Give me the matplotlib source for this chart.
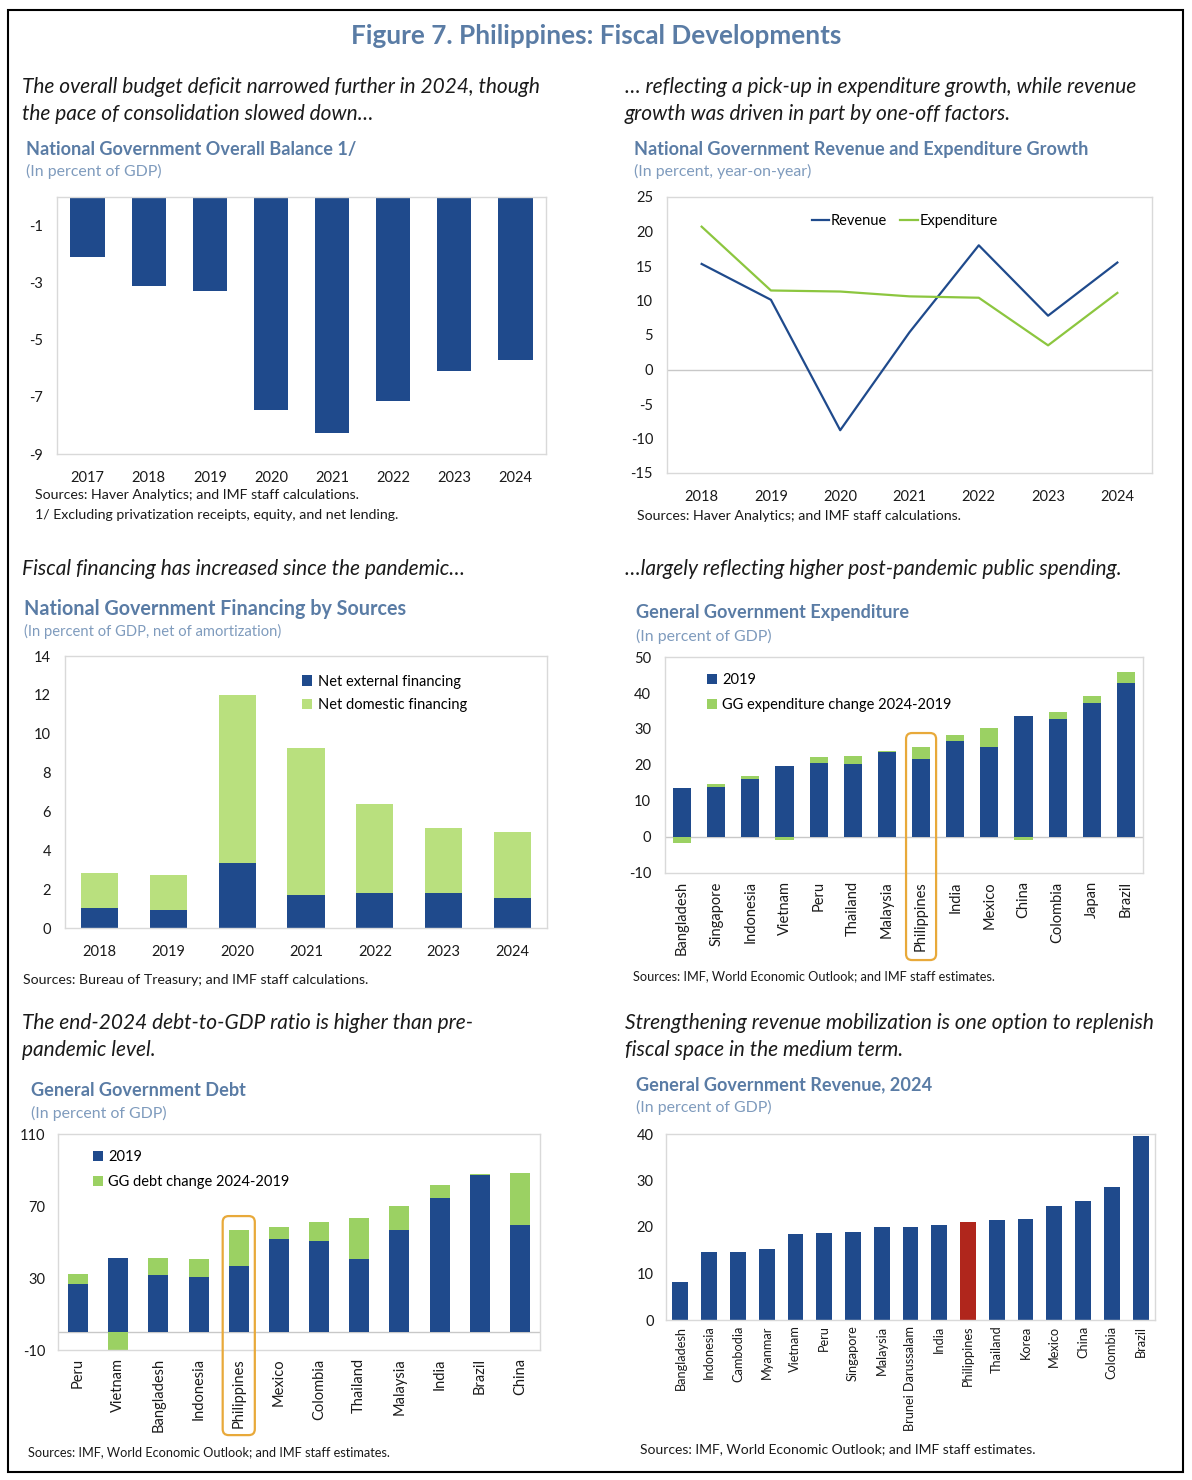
import matplotlib
matplotlib.use("Agg")
import matplotlib.pyplot as plt
from matplotlib.patches import FancyBboxPatch, Rectangle
import numpy as np

# ---------------- data ----------------
bal_years = ["2017", "2018", "2019", "2020", "2021", "2022", "2023", "2024"]
bal_values = [-2.1, -3.1, -3.3, -7.45, -8.25, -7.15, -6.1, -5.7]

gr_years = ["2018", "2019", "2020", "2021", "2022", "2023", "2024"]
gr_revenue = [15.3, 10.1, -8.8, 5.4, 18.0, 7.8, 15.5]
gr_expenditure = [20.7, 11.45, 11.3, 10.6, 10.4, 3.5, 11.1]

fin_years = ["2018", "2019", "2020", "2021", "2022", "2023", "2024"]
fin_external = [1.05, 0.92, 3.36, 1.71, 1.78, 1.82, 1.54]
fin_domestic = [1.79, 1.80, 8.64, 7.57, 4.62, 3.31, 3.39]

exp_countries = ["Bangladesh", "Singapore", "Indonesia", "Vietnam", "Peru", "Thailand",
                 "Malaysia", "Philippines", "India", "Mexico", "China", "Colombia",
                 "Japan", "Brazil"]
exp_2019 = [13.7, 13.9, 16.2, 19.8, 20.6, 20.4, 23.5, 21.6, 26.7, 25.1, 33.6, 32.7, 37.2, 42.9]
exp_change = [-1.6, 0.7, 0.65, -0.8, 1.7, 2.2, 0.3, 3.3, 1.7, 5.2, -0.8, 2.0, 1.9, 2.8]

debt_countries = ["Peru", "Vietnam", "Bangladesh", "Indonesia", "Philippines", "Mexico",
                  "Colombia", "Thailand", "Malaysia", "India", "Brazil", "China"]
debt_2019 = [26.5, 41.1, 31.9, 30.4, 36.7, 51.9, 50.7, 40.7, 56.7, 74.6, 87.0, 59.3]
debt_change = [5.7, -10.0, 9.3, 10.0, 20.0, 6.5, 10.6, 22.6, 13.3, 6.9, 0.8, 29.0]

rev_countries = ["Bangladesh", "Indonesia", "Cambodia", "Myanmar", "Vietnam", "Peru",
                 "Singapore", "Malaysia", "Brunei Darussalam", "India", "Philippines",
                 "Thailand", "Korea", "Mexico", "China", "Colombia", "Brazil"]
rev_values = [8.2, 14.6, 14.7, 15.2, 18.5, 18.7, 19.0, 20.0, 20.1, 20.5, 21.1, 21.4,
              21.8, 24.6, 25.6, 28.5, 39.6]

# ---------------- style ----------------
FONT = ["Lato", "DejaVu Sans"]
plt.rcParams['font.family'] = FONT
plt.rcParams['axes.unicode_minus'] = False
BLUE = "#1f4a8c"
GREEN_L = "#b9e07e"
GREEN = "#9bd163"
RED = "#b0261c"
ORANGE = "#e8a93a"
TITLE_C = "#5a7ca5"
SUB_C = "#7f9bbd"
FRAME_C = "#d9d9d9"
ZERO_C = "#c8c8c8"
TXT = "#1a1a1a"

W, H = 1192, 1480
fig = plt.figure(figsize=(W / 100, H / 100), dpi=100)


def ax_px(l, t, r, b):
    return fig.add_axes([l / W, 1 - b / H, (r - l) / W, (b - t) / H])


def txt(x, y, s, **kw):
    kw.setdefault("va", "center")
    kw.setdefault("ha", "left")
    fig.text(x / W, 1 - y / H, s, **kw)


def style_ax(ax, tick_fs=10.5):
    for sp in ax.spines.values():
        sp.set_color(FRAME_C)
        sp.set_linewidth(1.0)
    ax.tick_params(axis="both", length=0, labelsize=tick_fs, colors=TXT)


def highlight(ax, idx, half, ytop, ybot):
    fig.canvas.draw()
    x0 = ax.transData.transform((idx - half, 0))[0]
    x1 = ax.transData.transform((idx + half, 0))[0]
    y0 = ax.transAxes.transform((0, ybot))[1]
    y1 = ax.transAxes.transform((0, ytop))[1]
    p = FancyBboxPatch((x0, y0), x1 - x0, y1 - y0,
                       boxstyle="round,pad=0,rounding_size=6",
                       transform=None, fill=False, edgecolor=ORANGE, lw=1.6,
                       zorder=10)
    fig.patches.append(p)


# outer border
fig.patches.append(Rectangle((8 / W, 1 - 1472 / H), 1175 / W, 1462 / H,
                             transform=fig.transFigure, fill=False,
                             edgecolor="black", lw=1.5))

txt(596, 36, "Figure 7. Philippines: Fiscal Developments", ha="center",
    fontsize=18.8, fontweight="bold", color=TITLE_C)

HDR_FS = 15.0
T_FS = 13.1
S_FS = 11.4

# ---------- Panel 1 ----------
txt(22, 87, "The overall budget deficit narrowed further in 2024, though",
    fontsize=HDR_FS, style="italic", color=TXT)
txt(22, 114, "the pace of consolidation slowed down…", fontsize=HDR_FS,
    style="italic", color=TXT)
txt(26, 149, "National Government Overall Balance 1/", fontsize=T_FS,
    fontweight="bold", color=TITLE_C)
txt(26, 171, "(In percent of GDP)", fontsize=S_FS, color=SUB_C)

ax1 = ax_px(57, 197, 546, 454)
x = np.arange(len(bal_years))
ax1.bar(x, bal_values, width=0.56, color=BLUE)
ax1.set_xlim(-0.5, len(bal_years) - 0.5)
ax1.set_ylim(-9, 0)
ax1.set_yticks([-1, -3, -5, -7, -9])
ax1.set_xticks(x)
ax1.set_xticklabels(bal_years)
style_ax(ax1)
ax1.tick_params(axis="x", pad=12)
ax1.tick_params(axis="y", pad=10)
txt(35, 495, "Sources: Haver Analytics; and IMF staff calculations.", fontsize=10.2, color=TXT)
txt(35, 515, "1/ Excluding privatization receipts, equity, and net lending.",
    fontsize=10.2, color=TXT)

# ---------- Panel 2 ----------
txt(625, 87, "… reflecting a pick-up in expenditure growth, while revenue",
    fontsize=HDR_FS, style="italic", color=TXT)
txt(625, 114, "growth was driven in part by one-off factors.", fontsize=HDR_FS,
    style="italic", color=TXT)
txt(634, 149, "National Government Revenue and Expenditure Growth", fontsize=T_FS,
    fontweight="bold", color=TITLE_C)
txt(634, 171, "(In percent, year-on-year)", fontsize=S_FS, color=SUB_C)

ax2 = ax_px(667, 197, 1152, 473)
x2 = np.arange(len(gr_years))
ax2.axhline(0, color=ZERO_C, lw=1.0, zorder=1)
ax2.plot(x2, gr_revenue, color="#1f4a8c", lw=1.6, label="Revenue")
ax2.plot(x2, gr_expenditure, color="#8cc63f", lw=1.6, label="Expenditure")
ax2.set_xlim(-0.5, len(gr_years) - 0.5)
ax2.set_ylim(-15, 25)
ax2.set_yticks(np.arange(-15, 26, 5))
ax2.set_xticks(x2)
ax2.set_xticklabels(gr_years)
style_ax(ax2)
ax2.tick_params(axis="x", pad=12)
ax2.tick_params(axis="y", pad=10)
ax2.legend(loc="upper center", bbox_to_anchor=(0.49, 0.985), ncol=2, frameon=False,
           fontsize=10.5, handlelength=1.2, handletextpad=0.1, columnspacing=0.9)
txt(637, 516, "Sources: Haver Analytics; and IMF staff calculations.", fontsize=10.2, color=TXT)

# ---------- Panel 3 ----------
txt(22, 569, "Fiscal financing has increased since the pandemic…", fontsize=HDR_FS,
    style="italic", color=TXT)
txt(24, 609, "National Government Financing by Sources", fontsize=14.2,
    fontweight="bold", color=TITLE_C)
txt(24, 631, "(In percent of GDP, net of amortization)", fontsize=10.6, color=SUB_C)

ax3 = ax_px(65, 656, 547, 928)
x3 = np.arange(len(fin_years))
ax3.bar(x3, fin_external, width=0.54, color=BLUE, label="Net external financing")
ax3.bar(x3, fin_domestic, width=0.54, bottom=fin_external, color=GREEN_L,
        label="Net domestic financing")
ax3.set_xlim(-0.5, len(fin_years) - 0.5)
ax3.set_ylim(0, 14)
ax3.set_yticks(np.arange(0, 15, 2))
ax3.set_xticks(x3)
ax3.set_xticklabels(fin_years)
style_ax(ax3)
ax3.tick_params(axis="x", pad=12)
ax3.tick_params(axis="y", pad=10)
ax3.legend(loc="upper left", bbox_to_anchor=(0.465, 0.98), frameon=False,
           fontsize=10.5, handlelength=0.7, handleheight=0.7, handletextpad=0.35,
           labelspacing=0.65)
txt(23, 980, "Sources: Bureau of Treasury; and IMF staff calculations.", fontsize=10.2, color=TXT)

# ---------- Panel 4 ----------
txt(625, 569, "…largely reflecting higher post-pandemic public spending.",
    fontsize=HDR_FS, style="italic", color=TXT)
txt(636, 613, "General Government Expenditure", fontsize=T_FS,
    fontweight="bold", color=TITLE_C)
txt(636, 636, "(In percent of GDP)", fontsize=S_FS, color=SUB_C)

ax4 = ax_px(665, 657, 1143, 873)
x4 = np.arange(len(exp_countries))
bottoms4 = [b if c >= 0 else 0 for b, c in zip(exp_2019, exp_change)]
ax4.axhline(0, color=ZERO_C, lw=1.0, zorder=0)
ax4.bar(x4, exp_2019, width=0.53, color=BLUE, label="2019", zorder=2)
ax4.bar(x4, exp_change, width=0.53, bottom=bottoms4, color=GREEN,
        label="GG expenditure change 2024-2019", zorder=2)
ax4.set_xlim(-0.5, len(exp_countries) - 0.5)
ax4.set_ylim(-10, 50)
ax4.set_yticks(np.arange(-10, 51, 10))
ax4.set_xticks(x4)
ax4.set_xticklabels(exp_countries, rotation=90)
style_ax(ax4)
ax4.tick_params(axis="x", pad=6)
ax4.tick_params(axis="y", pad=10)
ax4.legend(loc="upper left", bbox_to_anchor=(0.06, 0.985), frameon=False,
           fontsize=10.5, handlelength=0.7, handleheight=0.7, handletextpad=0.35,
           labelspacing=0.75)
highlight(ax4, exp_countries.index("Philippines"), 0.44, 0.648, -0.403)
txt(633, 976, "Sources: IMF, World Economic Outlook; and IMF staff estimates.",
    fontsize=9.2, color=TXT)

# ---------- Panel 5 ----------
txt(22, 1023, "The end-2024 debt-to-GDP ratio is higher than pre-", fontsize=HDR_FS,
    style="italic", color=TXT)
txt(22, 1050, "pandemic level.", fontsize=HDR_FS, style="italic", color=TXT)
txt(31, 1091, "General Government Debt", fontsize=T_FS, fontweight="bold", color=TITLE_C)
txt(31, 1113, "(In percent of GDP)", fontsize=S_FS, color=SUB_C)

ax5 = ax_px(58, 1134, 540, 1350)
x5 = np.arange(len(debt_countries))
bottoms5 = [b if c >= 0 else 0 for b, c in zip(debt_2019, debt_change)]
ax5.axhline(0, color=ZERO_C, lw=1.0, zorder=0)
ax5.bar(x5, debt_2019, width=0.5, color=BLUE, label="2019", zorder=2)
ax5.bar(x5, debt_change, width=0.5, bottom=bottoms5, color=GREEN,
        label="GG debt change 2024-2019", zorder=2)
ax5.set_xlim(-0.5, len(debt_countries) - 0.5)
ax5.set_ylim(-10, 110)
ax5.set_yticks([-10, 30, 70, 110])
ax5.set_xticks(x5)
ax5.set_xticklabels(debt_countries, rotation=90)
style_ax(ax5)
ax5.tick_params(axis="x", pad=6)
ax5.tick_params(axis="y", pad=9)
ax5.legend(loc="upper left", bbox_to_anchor=(0.045, 0.985), frameon=False,
           fontsize=10.5, handlelength=0.7, handleheight=0.7, handletextpad=0.35,
           labelspacing=0.75)
highlight(ax5, debt_countries.index("Philippines"), 0.4, 0.62, -0.394)
txt(28, 1452, "Sources: IMF, World Economic Outlook; and IMF staff estimates.",
    fontsize=9.2, color=TXT)

# ---------- Panel 6 ----------
txt(625, 1023, "Strengthening revenue mobilization is one option to replenish",
    fontsize=HDR_FS, style="italic", color=TXT)
txt(625, 1050, "fiscal space in the medium term.", fontsize=HDR_FS, style="italic", color=TXT)
txt(636, 1085, "General Government Revenue, 2024", fontsize=T_FS,
    fontweight="bold", color=TITLE_C)
txt(636, 1107, "(In percent of GDP)", fontsize=S_FS, color=SUB_C)

ax6 = ax_px(666, 1134, 1155, 1320)
x6 = np.arange(len(rev_countries))
colors6 = [RED if c == "Philippines" else BLUE for c in rev_countries]
ax6.bar(x6, rev_values, width=0.55, color=colors6)
ax6.set_xlim(-0.5, len(rev_countries) - 0.5)
ax6.set_ylim(0, 40)
ax6.set_yticks(np.arange(0, 41, 10))
ax6.set_xticks(x6)
ax6.set_xticklabels(rev_countries, rotation=90)
style_ax(ax6, tick_fs=10.5)
ax6.tick_params(axis="x", pad=4, labelsize=9.2)
ax6.tick_params(axis="y", pad=9)
txt(640, 1449, "Sources: IMF, World Economic Outlook; and IMF staff estimates.",
    fontsize=10, color=TXT)

fig.savefig("out.png", dpi=100)
